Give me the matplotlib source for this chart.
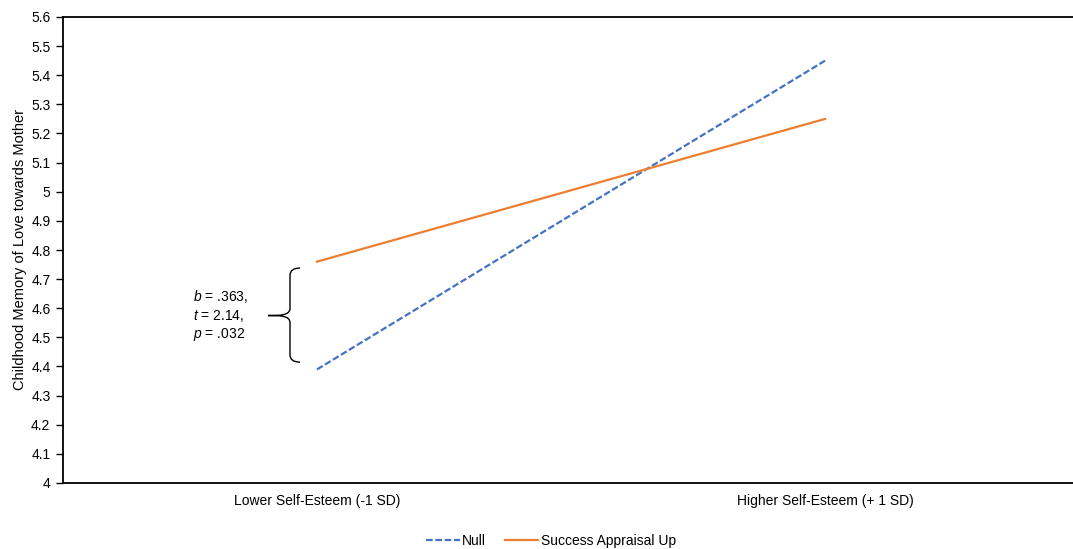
import matplotlib
matplotlib.use("Agg")
import matplotlib.pyplot as plt
from matplotlib.path import Path
from matplotlib.patches import PathPatch
from matplotlib.ticker import MultipleLocator, FuncFormatter

plt.rcParams["font.family"] = ["Liberation Sans", "DejaVu Sans"]
plt.rcParams["mathtext.fontset"] = "custom"
plt.rcParams["mathtext.rm"] = "Liberation Sans"
plt.rcParams["mathtext.it"] = "Liberation Sans:italic"

categories = ["Lower Self-Esteem (-1 SD)", "Higher Self-Esteem (+ 1 SD)"]
null_values = [4.39, 5.45]
success_values = [4.76, 5.25]
stats_text = "$b$ = .363,\n$t$ = 2.14,\n$p$ = .032"

BLUE = "#4472C4"
ORANGE = "#ED7D31"
FS = 10

fig = plt.figure(figsize=(10.73, 5.49), dpi=100)
ax = fig.add_axes([63 / 1073, 1 - 483 / 549, 1016 / 1073, 466 / 549])

x = list(range(len(categories)))
ax.plot(x, null_values, color=BLUE, lw=1.6, dashes=(3, 1.2), label="Null")
ax.plot(x, success_values, color=ORANGE, lw=1.6, label="Success Appraisal Up")

ax.set_xlim(-0.5, 1.5)
ax.set_ylim(4, 5.6)
ax.yaxis.set_major_locator(MultipleLocator(0.1))
ax.yaxis.set_major_formatter(FuncFormatter(lambda v, _: f"{v:.1f}".rstrip("0").rstrip(".")))
ax.set_xticks(x)
ax.set_xticklabels(categories, fontsize=FS)
ax.tick_params(axis="x", length=0, pad=8)
ax.tick_params(axis="y", length=5, width=1, labelsize=FS, pad=4, direction="out")
ax.set_ylabel("Childhood Memory of Love towards Mother", fontsize=10.5, labelpad=3)
for side in ("left", "top", "bottom"):
    ax.spines[side].set_linewidth(1.3)
ax.spines["right"].set_visible(False)

# curly brace between the two lines at the low self-esteem point
lo = null_values[0] + 0.025
hi = success_values[0] - 0.022
mid = (null_values[0] + success_values[0]) / 2
px = 1 / 508
xs = x[0] - 27 * px
xe = x[0] - 17 * px
xt = x[0] - 49 * px
c = 0.025
verts = [
    (xe, hi), (xs, hi), (xs, hi - c),
    (xs, mid + c),
    (xs, mid), (xt + 12 * px, mid), (xt, mid),
    (xt + 12 * px, mid), (xs, mid), (xs, mid - c),
    (xs, lo + c),
    (xs, lo), (xe, lo), (xe, lo),
]
codes = [
    Path.MOVETO, Path.CURVE3, Path.CURVE3,
    Path.LINETO,
    Path.CURVE4, Path.CURVE4, Path.CURVE4,
    Path.CURVE4, Path.CURVE4, Path.CURVE4,
    Path.LINETO,
    Path.CURVE3, Path.CURVE3, Path.LINETO,
]
ax.add_patch(PathPatch(Path(verts, codes), fill=False, lw=1.0, color="black", clip_on=False))

ax.text(x[0] - 124 * px, mid, stats_text, fontsize=FS, ha="left", va="center", linespacing=1.2)

fig.legend(loc="center", bbox_to_anchor=(551 / 1073, 1 - 541 / 549), ncol=2, frameon=False,
           fontsize=FS, handlelength=2.4, handletextpad=0.15, columnspacing=1.4)

fig.savefig("out.png", dpi=100)
